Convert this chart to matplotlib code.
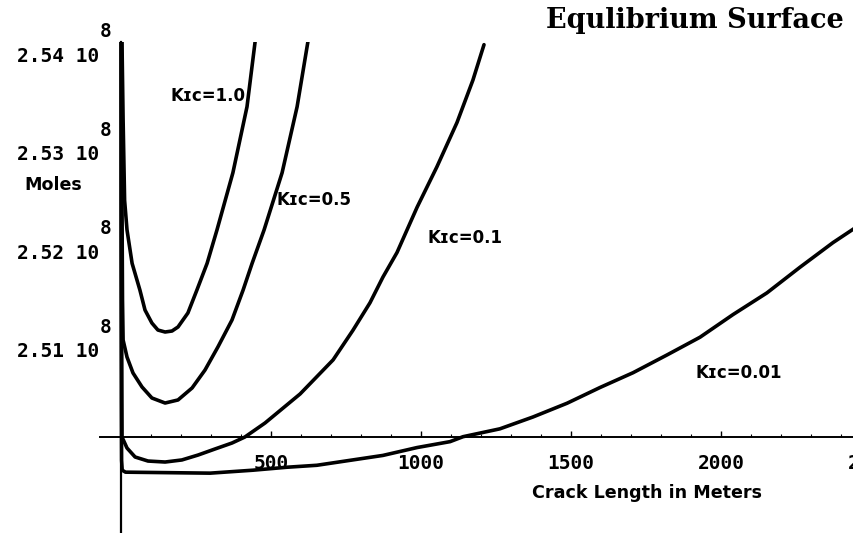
import matplotlib
matplotlib.use("Agg")
import matplotlib.pyplot as plt
from matplotlib.transforms import blended_transform_factory

# curve points (x in meters, y in units of 1e8 moles)
k10_x = [3.3, 7, 12, 20, 37, 63, 80, 103, 123, 147, 170, 190, 223, 253, 287, 320, 373, 420, 447]
k10_y = [2.5415, 2.5336, 2.5254, 2.5224, 2.5190, 2.51629, 2.51426, 2.51294, 2.51223, 2.51203,
         2.51213, 2.51254, 2.51396, 2.51629, 2.5190, 2.5224, 2.5282, 2.5349, 2.5415]

k05_x = [1.7, 3.3, 5, 7, 20, 40, 70, 103, 147, 190, 237, 280, 323, 370, 407, 437, 477, 537, 587, 623]
k05_y = [2.5415, 2.5254, 2.5153, 2.51122, 2.50949, 2.50787, 2.50645, 2.50533, 2.50482, 2.50513,
         2.50635, 2.50817, 2.51051, 2.51325, 2.51629, 2.5190, 2.5224, 2.5282, 2.5349, 2.5415]

k01_x = [0.7, 1, 2.3, 3.3, 20, 47, 90, 147, 203, 257, 313, 370, 413, 480, 597, 707,
         773, 830, 873, 920, 987, 1053, 1120, 1173, 1210]
k01_y = [2.5415, 2.5254, 2.5102, 2.50137, 2.50025, 2.49934, 2.49893, 2.49883, 2.49904, 2.49954,
         2.50015, 2.50076, 2.50137, 2.50279, 2.50574, 2.5092, 2.5122, 2.5150, 2.5176, 2.5201,
         2.5247, 2.5288, 2.5333, 2.5376, 2.5412]

k001_x = [0.3, 0.5, 1.2, 2, 4, 15, 297, 440, 553, 653, 763, 873, 987, 1097, 1140,
          1263, 1373, 1487, 1597, 1707, 1820, 1930, 2040, 2153, 2263, 2373, 2447]
k001_y = [2.5415, 2.5200, 2.5050, 2.4990, 2.4980, 2.4978, 2.4977, 2.4980, 2.4983, 2.4985,
          2.4990, 2.4995, 2.5003, 2.5009, 2.5014, 2.5022, 2.5034, 2.5048, 2.5064, 2.5079,
          2.5097, 2.5115, 2.5138, 2.5160, 2.5186, 2.5211, 2.5226]

curve_labels = ["K\u026a\u1d04=1.0", "K\u026a\u1d04=0.5", "K\u026a\u1d04=0.1", "K\u026a\u1d04=0.01"]
label_x = [290, 643, 1147, 2060]
label_y = [2.5360, 2.5254, 2.5216, 2.5079]

ytick_vals = [2.51, 2.52, 2.53, 2.54]
ytick_text = ["2.51 10", "2.52 10", "2.53 10", "2.54 10"]
xtick_vals = [500, 1000, 1500, 2000, 2500]

X0 = 0.0
Y0 = 2.50137   # where Mathematica crossed the axes

fig = plt.figure(figsize=(8.54, 5.33), dpi=100)
ax = fig.add_axes([100 / 854, 0, 754 / 854, 491 / 533])
ax.set_xlim(-70, 2443.3)
ax.set_ylim(2.491624, 2.541472)

for xs, ys in [(k10_x, k10_y), (k05_x, k05_y), (k01_x, k01_y), (k001_x, k001_y)]:
    ax.plot(xs, ys, color="black", lw=2.6, solid_joinstyle="round", solid_capstyle="round")

# axes through the origin point
for s in ["top", "right"]:
    ax.spines[s].set_visible(False)
ax.spines["left"].set_position(("data", X0))
ax.spines["bottom"].set_position(("data", Y0))
ax.spines["left"].set_linewidth(1.6)
ax.spines["bottom"].set_linewidth(1.4)

mono = {"family": "DejaVu Sans Mono", "weight": "bold", "size": 14}
sans = {"family": "DejaVu Sans", "weight": "bold", "size": 12}
sans_lab = {"family": "DejaVu Sans", "weight": "bold", "size": 12.6}

ax.set_xticks(xtick_vals[:-1])
ax.set_xticklabels([str(v) for v in xtick_vals[:-1]], fontdict=mono)
ax.set_xticks(range(100, 2500, 100), minor=True)
ax.tick_params(axis="x", which="major", direction="in", length=4, width=1, pad=12)
ax.tick_params(axis="x", which="minor", direction="in", length=2, width=0.8)
# last label sits past the right edge, as in the original
ax.text(xtick_vals[-1], Y0 - 0.00265, str(xtick_vals[-1]), ha="center", va="center",
        fontdict=mono, clip_on=False)

ax.set_yticks([])
tr = blended_transform_factory(fig.transFigure, ax.transData)
for v, t in zip(ytick_vals, ytick_text):
    ax.text(99 / 854, v, t, transform=tr, ha="right", va="center", fontdict=mono)
    ax.text(100 / 854, v + 0.0025, "8", transform=tr, ha="left", va="center", fontdict=mono)

for t, x, y in zip(curve_labels, label_x, label_y):
    ax.text(x, y, t, ha="center", va="center", fontdict=sans)

fig.text(53 / 854, 1 - 185 / 533, "Moles", ha="center", va="center", fontdict=sans_lab)
fig.text(647 / 854, 1 - 493 / 533, "Crack Length in Meters", ha="center", va="center",
         fontdict=sans_lab)
fig.text(695 / 854, 1 - 21 / 533, "Equlibrium Surface", ha="center", va="center",
         family="DejaVu Serif", weight="bold", size=19.5)

fig.savefig("out.png", dpi=100)
